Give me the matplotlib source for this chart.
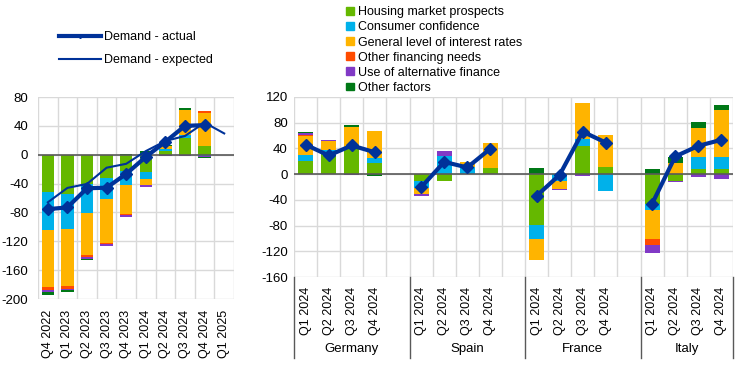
import numpy as np
import matplotlib
matplotlib.use("Agg")
import matplotlib.pyplot as plt
import matplotlib.transforms as mtransforms
from matplotlib.lines import Line2D
from matplotlib.patches import Patch

plt.rcParams['font.family'] = ['Liberation Sans', 'DejaVu Sans']
plt.rcParams['font.size'] = 9
plt.rcParams['axes.unicode_minus'] = False

# factor names and colours
factors = ['Housing market prospects', 'Consumer confidence', 'General level of interest rates',
           'Other financing needs', 'Use of alternative finance', 'Other factors']
colors = ['#65B800', '#00B1EA', '#FFB400', '#FF4B00', '#8139C6', '#007816']
blue = '#003299'

# left panel: euro area
ea_quarters = ['Q4 2022', 'Q1 2023', 'Q2 2023', 'Q3 2023', 'Q4 2023',
               'Q1 2024', 'Q2 2024', 'Q3 2024', 'Q4 2024', 'Q1 2025']
ea_housing = [-52, -55, -40.5, -32, -23, -24, 5.5, 23.4, 12, np.nan]
ea_consumer = [-53, -48.5, -40, -29, -19.6, -10, 2, 4.6, -1.5, np.nan]
ea_interest = [-79, -79, -58, -61, -40, -7.5, 4.5, 33.6, 46.5, np.nan]
ea_otherfin = [-4, -3.7, -3.7, -2.3, -1.4, 0, 0, 0, 1.5, np.nan]
ea_altfin = [-2, -1.5, -2.3, -2.3, -2.8, -2.8, -2, -2, -2, np.nan]
ea_other = [-5, -3, -1.4, 0, 1.5, 4.5, 2, 2.8, -1.5, np.nan]
ea_actual = [-75.5, -73, -46.5, -45.7, -26.6, -3, 18, 40, 41, np.nan]
ea_expected = [-66, -46, -40.5, -18, -12.6, 5, 19, 26, 44.5, 29.5]

# right panel: countries
countries = ['Germany', 'Spain', 'France', 'Italy']
quarters = ['Q1 2024', 'Q2 2024', 'Q3 2024', 'Q4 2024']
c_housing = [[20.7, 35, 40, 17.6], [-10, -10, 0, 10], [-79, 0, 44, 11.4], [-46, -10, 8.3, 8.3]]
c_consumer = [[8.3, 2, 0, 7.8], [-11, 28.5, 10.4, 0], [-22, -11, 11, -26], [-9.3, 0, 18.7, 18.7]]
c_interest = [[31, 15, 34, 41], [-10, 0, 9, 39], [-33, -11.4, 56, 50], [-45, 18, 45, 72]]
c_otherfin = [[1.5, 0, 0, 0], [0, 0, 0, 0], [0, 0, 0, 0], [-9.3, 0, 0, 0]]
c_altfin = [[2, 1.5, -2, 1], [-3, 8, 0, 0], [0, -3, -3, 0], [-12.4, -3, -4, -7]]
c_other = [[2, 0, 3, -3], [0, 0, 0, 0], [9.3, 0, 0, 0], [8.3, 9.3, 9.3, 8.8]]
c_actual = [[45.9, 29, 44.6, 34], [-20.5, 19, 10.4, 39.6], [-33.7, -1, 66, 49], [-46, 27.5, 44, 53.4]]

W, H = 745, 376
fig = plt.figure(figsize=(W / 100, H / 100), dpi=100)


def px_axes(x0, y0, x1, y1):
    return fig.add_axes([x0 / W, 1 - y1 / H, (x1 - x0) / W, (y1 - y0) / H])


def stack(ax, x, series, width):
    pos = np.zeros(len(x))
    neg = np.zeros(len(x))
    for vals, col in zip(series, colors):
        v = np.nan_to_num(np.asarray(vals, dtype=float))
        p = np.where(v > 0, v, 0)
        n = np.where(v < 0, v, 0)
        ax.bar(x, p, width, bottom=pos, color=col, zorder=2)
        ax.bar(x, n, width, bottom=neg, color=col, zorder=2)
        pos += p
        neg += n


def style(ax, n, ymin, ymax, ypad):
    ax.set_xlim(0, n)
    ax.set_ylim(ymin, ymax)
    ax.set_yticks(np.arange(ymin, ymax + 1, 40))
    ax.set_xticks(np.arange(0, n + 1), minor=True)
    ax.grid(axis='y', color='#d9d9d9', lw=1, zorder=0)
    ax.grid(axis='x', which='minor', color='#d9d9d9', lw=1, zorder=0)
    for s in ax.spines.values():
        s.set_visible(False)
    ax.tick_params(axis='both', which='both', length=0)
    ax.tick_params(axis='y', pad=ypad, labelsize=9.5)
    ax.axhline(0, color='#595959', lw=1.2, zorder=3)


# left chart
ax1 = px_axes(38, 97, 234, 299)
x1 = np.arange(len(ea_quarters)) + 0.5
stack(ax1, x1, [ea_housing, ea_consumer, ea_interest, ea_otherfin, ea_altfin, ea_other], 0.64)
style(ax1, len(ea_quarters), -200, 80, 7)
ax1.plot(x1, ea_expected, color=blue, lw=1.5, zorder=4)
ax1.plot(x1, ea_actual, color=blue, lw=3, marker='D', ms=6, zorder=5)
ax1.set_xticks(x1)
ax1.set_xticklabels(ea_quarters, rotation=90, fontsize=9)
ax1.tick_params(axis='x', pad=8)

# right chart
ax2 = px_axes(294, 97, 733, 277)
nslots = 19
ticks = []
labels = []
for g, c in enumerate(countries):
    xs = np.arange(4) + 5 * g + 0.5
    stack(ax2, xs, [c_housing[g], c_consumer[g], c_interest[g], c_otherfin[g], c_altfin[g], c_other[g]], 0.65)
    ax2.plot(xs, c_actual[g], color=blue, lw=3, marker='D', ms=6, zorder=5)
    ticks += list(xs)
    labels += quarters
style(ax2, nslots, -160, 120, 4.5)
ax2.set_xticks(ticks)
ax2.set_xticklabels(labels, rotation=90, fontsize=9)
ax2.tick_params(axis='x', pad=7)

trans = mtransforms.blended_transform_factory(ax2.transData, ax2.transAxes)
for b in [0, 5, 10, 15, 19]:
    ax2.plot([b, b], [0, -0.45], color='#595959', lw=1, transform=trans, clip_on=False)
for g, c in enumerate(countries):
    end = min(5 * g + 5, nslots)
    ax2.text((5 * g + end) / 2, -0.4, c, transform=trans, ha='center', va='center', fontsize=9.5)

# legends
h_lines = [Line2D([], [], color=blue, lw=3, marker='D', ms=2),
           Line2D([], [], color=blue, lw=1.5)]
fig.legend(h_lines, ['Demand - actual', 'Demand - expected'], loc='upper left',
           bbox_to_anchor=(48 / W, 1 - 20 / H), frameon=False, handlelength=3.3,
           handletextpad=0.3, labelspacing=0.9, fontsize=9)

h_bars = [Patch(color=c) for c in colors]
fig.legend(h_bars, factors, loc='upper left', bbox_to_anchor=(335 / W, 1 + 5 / H),
           frameon=False, handlelength=0.6, handleheight=0.6, handletextpad=0.3,
           labelspacing=0.25, fontsize=9)

fig.savefig('out.png', dpi=100)
